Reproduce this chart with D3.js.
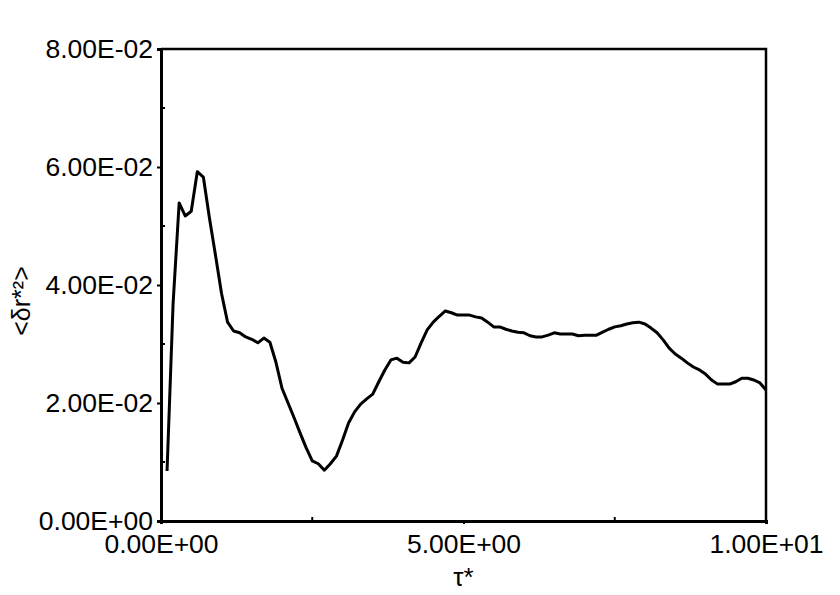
<!DOCTYPE html>
<html><head><meta charset="utf-8">
<script src="https://cdn.jsdelivr.net/npm/d3@7"></script>
<style>body{margin:0;background:#fff}svg{display:block}text{font-family:"Liberation Sans",Arial,sans-serif;fill:#000}</style>
</head><body><svg id="c" width="840" height="595"></svg>
<script>
const tau = [0.1,0.2,0.3,0.4,0.5,0.6,0.7,0.8,0.9,1.0,1.1,1.2,1.3,1.4,1.5,1.6,1.7,1.8,1.9,2.0,2.1,2.2,2.3,2.4,2.5,2.6,2.7,2.8,2.9,3.0,3.1,3.2,3.3,3.4,3.5,3.6,3.7,3.8,3.9,4.0,4.1,4.2,4.3,4.4,4.5,4.6,4.7,4.8,4.9,5.0,5.1,5.2,5.3,5.4,5.5,5.6,5.7,5.8,5.9,6.0,6.1,6.2,6.3,6.4,6.5,6.6,6.7,6.8,6.9,7.0,7.1,7.2,7.3,7.4,7.5,7.6,7.7,7.8,7.9,8.0,8.1,8.2,8.3,8.4,8.5,8.6,8.7,8.8,8.9,9.0,9.1,9.2,9.3,9.4,9.5,9.6,9.7,9.8,9.9,10.0];
const msd = [0.00847,0.0369,0.0539,0.0517,0.0525,0.0592,0.0583,0.0514,0.0451,0.0386,0.0337,0.0322,0.0319,0.0312,0.0308,0.0302,0.0310,0.0303,0.0269,0.0225,0.0200,0.0175,0.0149,0.0124,0.0102,0.0097,0.0086,0.0097,0.0110,0.0137,0.0166,0.0185,0.0198,0.0207,0.0215,0.0236,0.0256,0.0273,0.0276,0.0269,0.0268,0.0278,0.0302,0.0324,0.0337,0.0347,0.0356,0.0353,0.0349,0.0349,0.0349,0.0346,0.0344,0.0337,0.0329,0.0329,0.0325,0.0322,0.0320,0.0319,0.0314,0.0312,0.0312,0.0315,0.0319,0.0317,0.0317,0.0317,0.0314,0.0315,0.0315,0.0315,0.0320,0.0325,0.0329,0.0331,0.0334,0.0336,0.0337,0.0334,0.0327,0.0319,0.0307,0.0293,0.0283,0.0276,0.0268,0.0261,0.0256,0.0249,0.0239,0.0232,0.0232,0.0232,0.0236,0.0242,0.0242,0.0239,0.0234,0.0222];
const xTicks = [0,5,10];
const xTickLabels = ["0.00E+00","5.00E+00","1.00E+01"];
const xMinor = [2.5,7.5];
const yTicks = [0,0.02,0.04,0.06,0.08];
const yTickLabels = ["0.00E+00","2.00E-02","4.00E-02","6.00E-02","8.00E-02"];
const yMinor = [0.01,0.03,0.05,0.07];
const xTitle = "τ*";
const yTitle = "<δr*²>";

const svg = d3.select("#c");
const L=161, R=766, T=49, B=521;
const x = d3.scaleLinear().domain([0,10]).range([L,R]);
const y = d3.scaleLinear().domain([0,0.08]).range([B,T]);
const fs = 26.5;

// frame
svg.append("path").attr("d",`M${L},${T}H${R}V${B}`).attr("fill","none").attr("stroke","#000").attr("stroke-width",2.5);

// y axis
const ya = svg.append("g").attr("transform",`translate(${L},0)`)
  .call(d3.axisLeft(y).tickValues(yTicks).tickFormat((d,i)=>yTickLabels[i]).tickSize(4).tickPadding(4));
ya.select(".domain").attr("stroke-width",3);
ya.selectAll(".tick line").attr("stroke-width",2);
ya.selectAll("text").attr("font-size",fs).attr("font-family",'"Liberation Sans",Arial,sans-serif');
svg.append("g").selectAll("line").data(yMinor).join("line")
  .attr("x1",L).attr("x2",L+4).attr("y1",d=>y(d)).attr("y2",d=>y(d)).attr("stroke","#000").attr("stroke-width",2);

// x axis
const xa = svg.append("g").attr("transform",`translate(0,${B})`)
  .call(d3.axisBottom(x).tickValues(xTicks).tickFormat((d,i)=>xTickLabels[i]).tickSize(3).tickPadding(10));
xa.select(".domain").attr("stroke-width",3);
xa.selectAll(".tick line").attr("stroke-width",2);
xa.selectAll("text").attr("font-size",fs).attr("font-family",'"Liberation Sans",Arial,sans-serif');
svg.append("g").selectAll("line").data(xMinor).join("line")
  .attr("x1",d=>x(d)).attr("x2",d=>x(d)).attr("y1",B).attr("y2",B-4).attr("stroke","#000").attr("stroke-width",2);

// line
const pts = tau.map((t,i)=>[t,msd[i]]);
svg.append("path").datum(pts).attr("fill","none").attr("stroke","#000").attr("stroke-width",3)
  .attr("stroke-linejoin","round")
  .attr("d",d3.line().x(d=>x(d[0])).y(d=>y(d[1])));

// titles
svg.append("text").attr("x",(L+R)/2).attr("y",586).attr("text-anchor","middle").attr("font-size",26).text(xTitle);
svg.append("text").attr("transform",`translate(30,301) rotate(-90)`).attr("text-anchor","middle").attr("font-size",25).text(yTitle);
</script></body></html>
